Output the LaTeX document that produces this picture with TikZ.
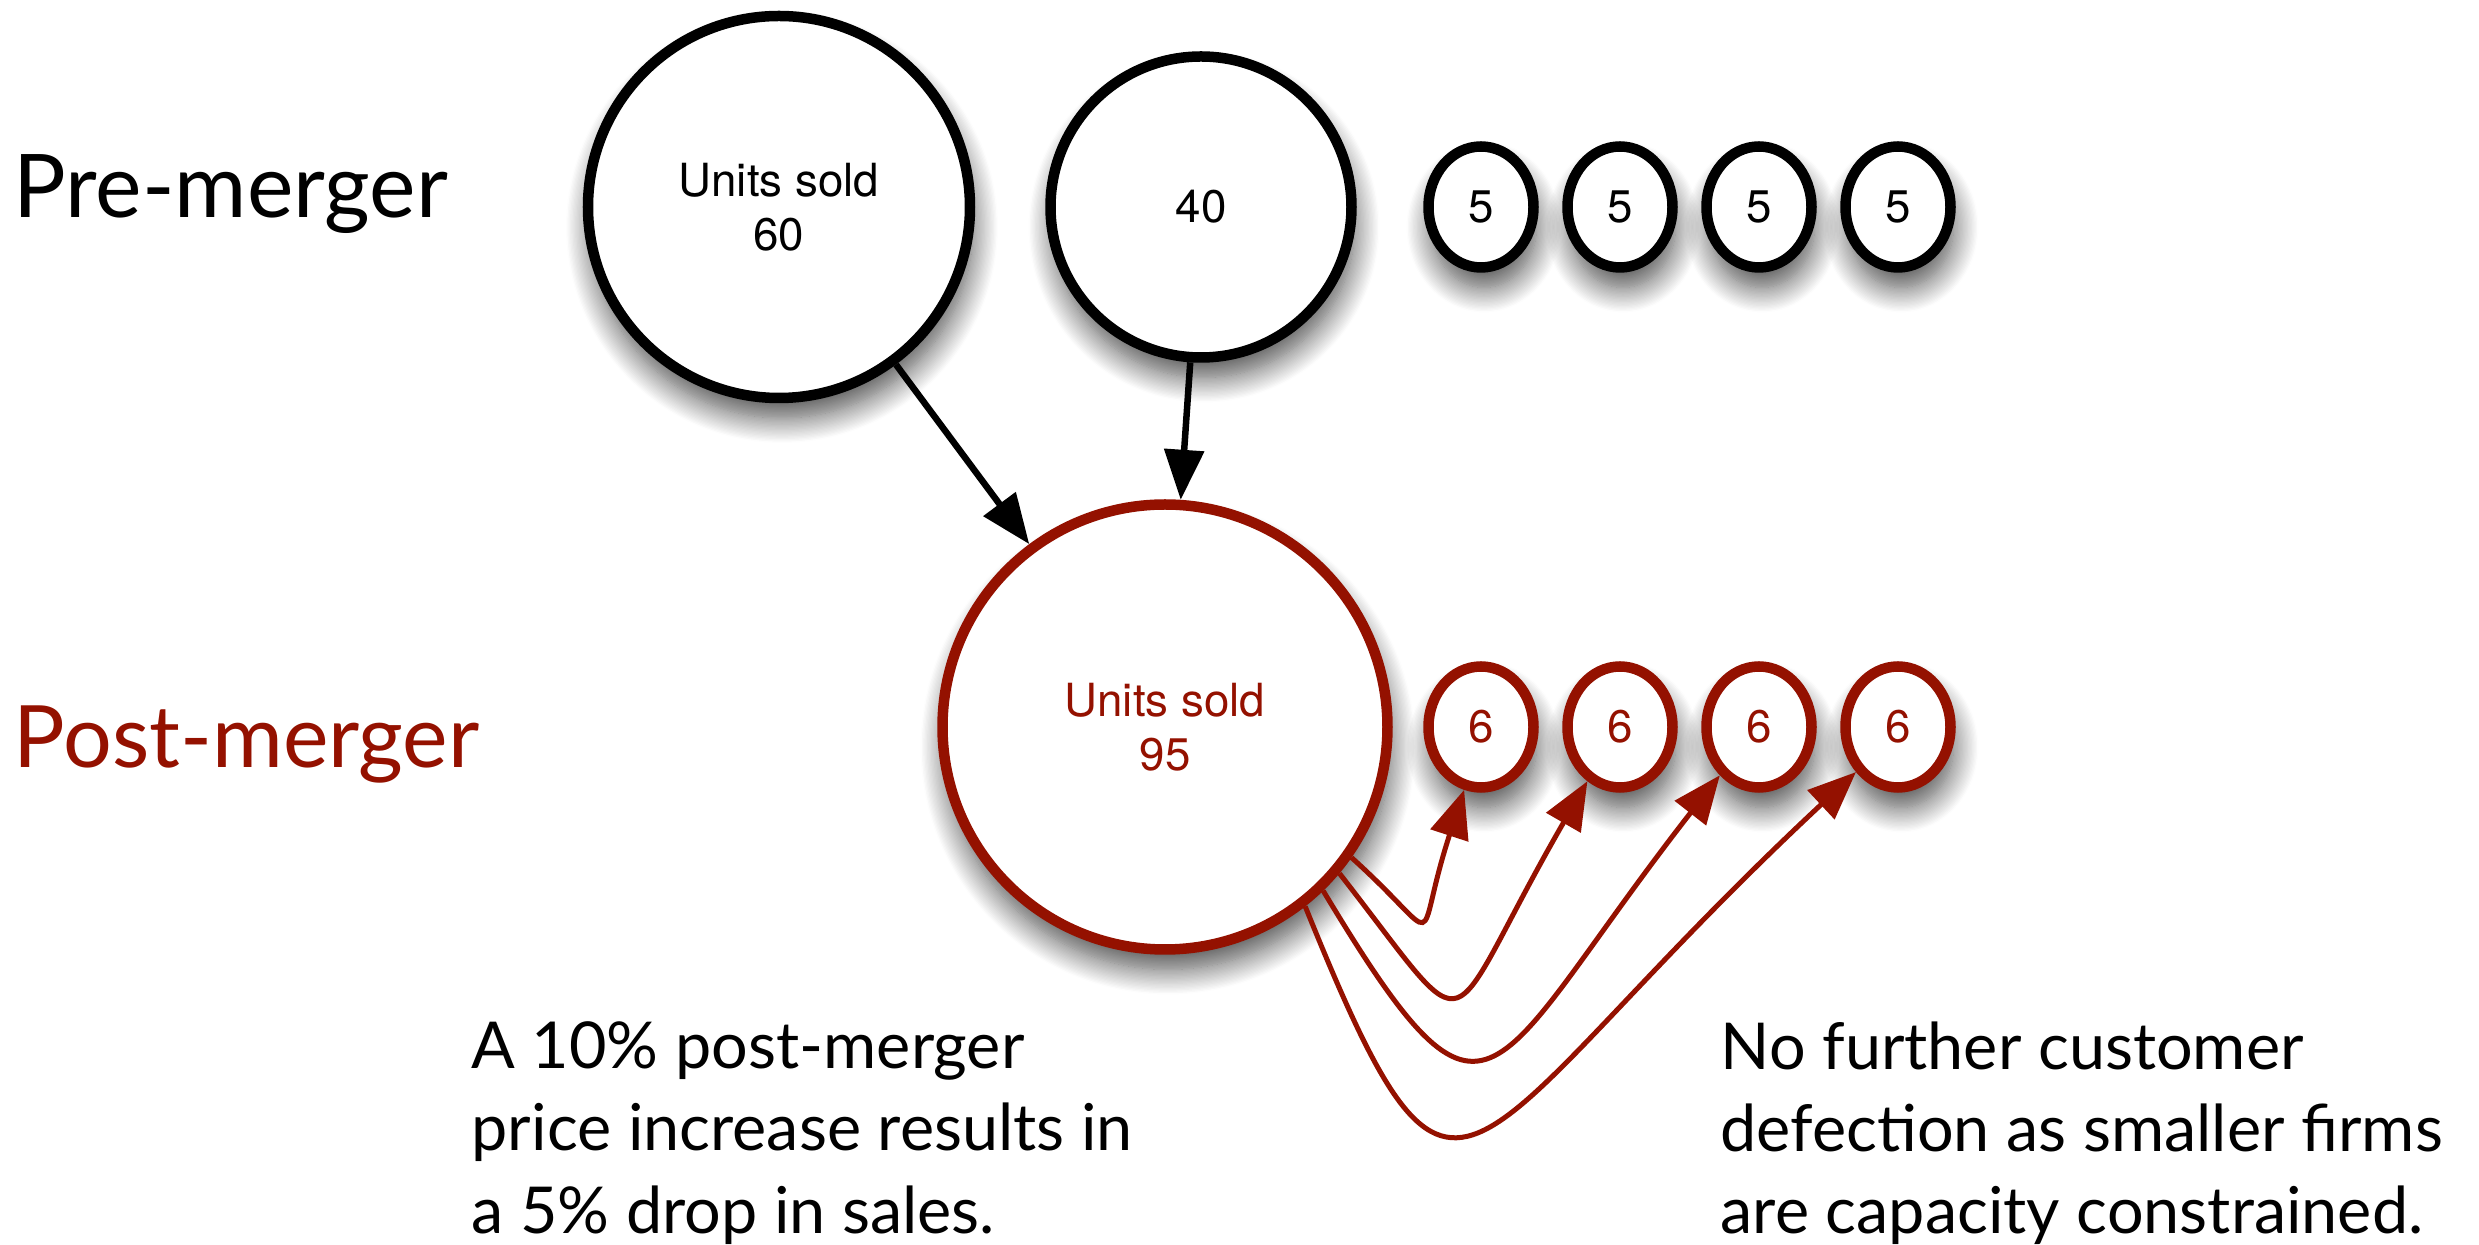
\documentclass[tikz,border=0pt]{standalone}
\usepackage{fontspec}
\setmainfont{Lato}
\newfontfamily\helv{TeX Gyre Heros}
\usetikzlibrary{positioning,shapes.geometric,arrows.meta,shadows.blur}
\definecolor{postred}{HTML}{941100}

\begin{document}
\begin{tikzpicture}
[every node/.style={font=\helv\fontsize{13}{15.5}\selectfont,align=center,inner sep=0mm},
 firm/.style={circle,draw,fill=white,line width=1.05mm,
   blur shadow={shadow xshift=0.3mm,shadow yshift=-2mm,shadow blur radius=2.5mm,
                shadow blur steps=20,shadow opacity=70}},
 rival/.style={firm,ellipse,minimum width=10.5mm,minimum height=12.1mm},
 pre/.style={draw=black,text=black},
 post/.style={draw=postred,text=postred},
 heading/.style={font=\fontsize{25}{29}\selectfont,anchor=base west},
 note/.style={font=\fontsize{18.4}{23.4}\selectfont,align=left,anchor=north west},
 merge/.style={-{Triangle[length=5mm,width=3.9mm]},line width=0.65mm},
 leak/.style={-{Triangle[length=4.8mm,width=3.9mm]},color=postred,line width=0.5mm}]
\useasboundingbox (-77.9mm,-103.8mm) rectangle (170mm,20.7mm);
\node[firm,pre,minimum size=38.2mm] (A)                              {Units sold\\60};
\node[firm,pre,minimum size=30.1mm] (B)  [on grid,right=42.2mm of A] {40};
\node[rival,pre]                    (p1) [on grid,right=70.2mm of A] {5};
\node[rival,pre]                    (p2) [on grid,right=13.9mm of p1] {5};
\node[rival,pre]                    (p3) [on grid,right=13.9mm of p2] {5};
\node[rival,pre]                    (p4) [on grid,right=13.9mm of p3] {5};
\node[firm,post,minimum size=44.5mm] (C) [on grid,below right=52mm and 38.6mm of A] {Units sold\\95};
\node[rival,post]                   (q1) [on grid,below=52mm of p1] {6};
\node[rival,post]                   (q2) [on grid,below=52mm of p2] {6};
\node[rival,post]                   (q3) [on grid,below=52mm of p3] {6};
\node[rival,post]                   (q4) [on grid,below=52mm of p4] {6};
\path[merge] (A) edge (C);
\path[merge] (B) edge (C);
\draw[leak] (C.-35) to[out=-42,in=-108,out distance=13mm,in distance=17mm] (q1.-105);
\draw[leak] (C.-40) to[out=-52,in=-120,out distance=23mm,in distance=30mm] (q2.-121);
\draw[leak] (C.-46) to[out=-59,in=-128,out distance=33mm,in distance=38mm] (q3.-129);
\draw[leak] (C.-52) to[out=-68,in=-137,out distance=42mm,in distance=55mm] (q4.-133);

% headings and notes
\node[heading]                       (pre)  at ([xshift=-76.6mm,yshift=-1.1mm]A.center)  {Pre-merger};
\node[heading,postred,font=\fontsize{24.5}{29}\selectfont] (post) at ([xshift=-76.6mm,yshift=-56.1mm]A.center) {Post-merger};
\node[note] (price) at ([xshift=-30.8mm,yshift=-81.4mm]A.center)
  {A 10\% post-merger\\price increase results in\\a 5\% drop in sales.};
\node[note] (cap)   at ([xshift=94.1mm,yshift=-81.4mm]A.center)
  {No further customer\\defection as smaller firms\\are capacity constrained.};
\end{tikzpicture}
\end{document}
